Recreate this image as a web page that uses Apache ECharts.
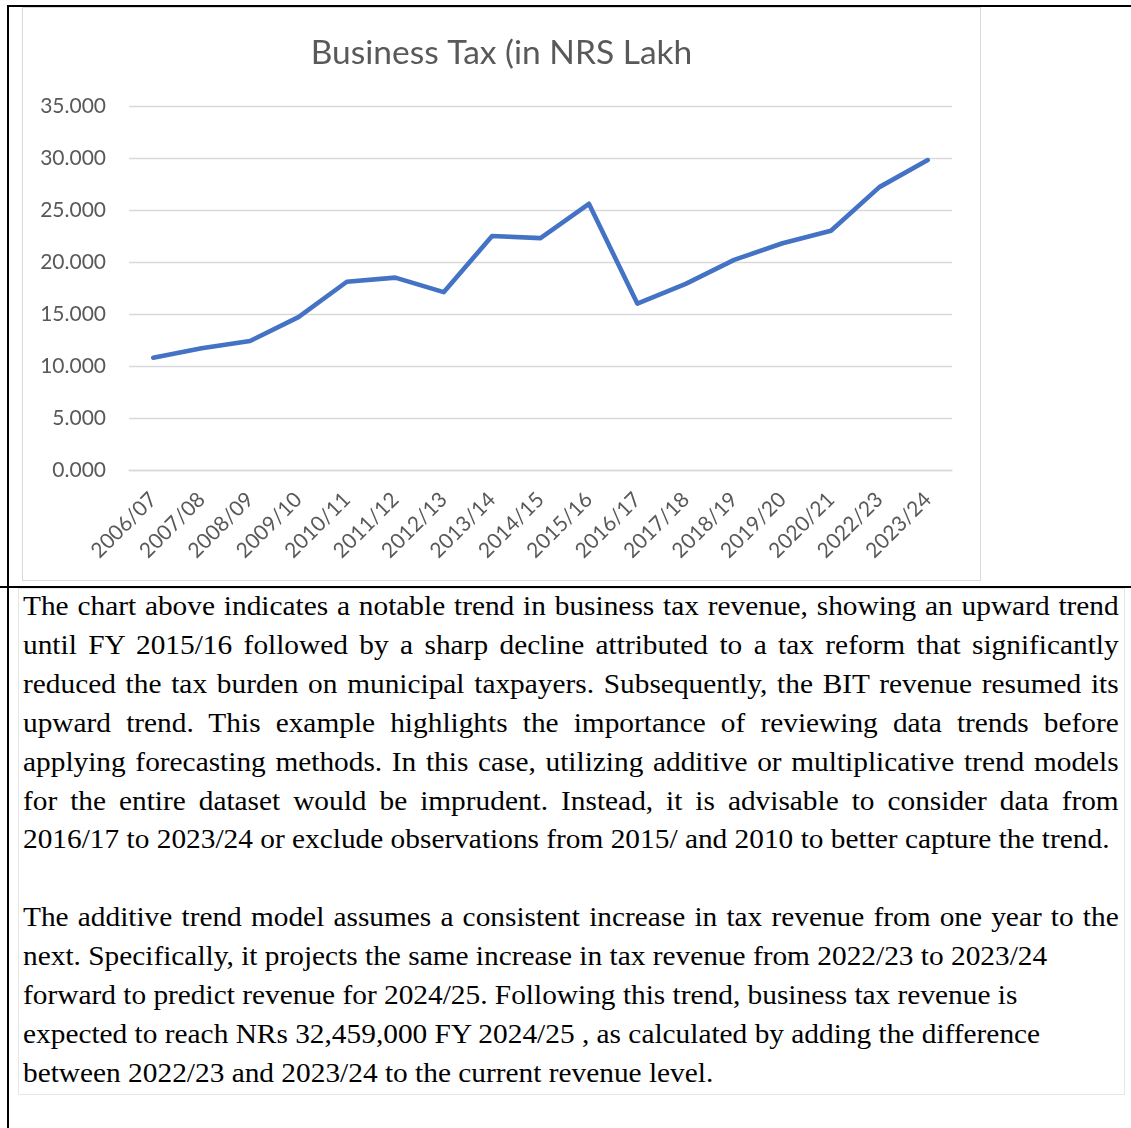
<!DOCTYPE html>
<html>
<head>
<meta charset="utf-8">
<script src="https://cdn.jsdelivr.net/npm/echarts@6/dist/echarts.min.js"></script>
<style>
  html, body { margin: 0; padding: 0; background: #fff; }
  body { width: 1131px; height: 1128px; position: relative; overflow: hidden; }
  .bl { position: absolute; background: #000; }
  #frame { position: absolute; left: 22px; top: 7px; width: 959px; height: 574px; box-sizing: border-box; border: 1px solid #d9d9d9; }
  #chart { position: absolute; left: 0; top: 0; width: 957px; height: 572px; }
  #tbox { position: absolute; left: 18px; top: 588px; width: 1107px; height: 507px; box-sizing: border-box; border: 1px solid #e6e6e6; }
  #text { position: absolute; left: 23px; top: 587px; width: 1008px; transform: scaleX(1.087); transform-origin: 0 0;
          font-family: "Liberation Serif", "Times New Roman", serif; font-size: 27px; line-height: 38.9px; color: #000; }
  .j { text-align: justify; text-align-last: justify; white-space: nowrap; }
  .l { text-align: left; white-space: nowrap; }
</style>
</head>
<body>
<div class="bl" style="left:7px; top:5px; width:1124px; height:2px;"></div>
<div class="bl" style="left:7px; top:5px; width:2px; height:1123px;"></div>
<div class="bl" style="left:0px; top:586px; width:1131px; height:2px;"></div>
<div id="frame"><div id="chart"></div></div>
<div id="tbox"></div>
<div id="text">
  <div class="j">The chart above indicates a notable trend in business tax revenue, showing an upward trend</div>
  <div class="j">until FY 2015/16 followed by a sharp decline attributed to a tax reform that significantly</div>
  <div class="j">reduced the tax burden on municipal taxpayers. Subsequently, the BIT revenue resumed its</div>
  <div class="j">upward trend. This example highlights the importance of reviewing data trends before</div>
  <div class="j">applying forecasting methods. In this case, utilizing additive or multiplicative trend models</div>
  <div class="j">for the entire dataset would be imprudent. Instead, it is advisable to consider data from</div>
  <div class="l">2016/17 to 2023/24 or exclude observations from 2015/ and 2010 to better capture the trend.</div>
  <div class="l">&nbsp;</div>
  <div class="j">The additive trend model assumes a consistent increase in tax revenue from one year to the</div>
  <div class="l">next. Specifically, it projects the same increase in tax revenue from 2022/23 to 2023/24</div>
  <div class="l">forward to predict revenue for 2024/25. Following this trend, business tax revenue is</div>
  <div class="l">expected to reach NRs 32,459,000 FY 2024/25 , as calculated by adding the difference</div>
  <div class="l">between 2022/23 and 2023/24 to the current revenue level.</div>
</div>
<script>
const titleText = "Business Tax (in NRS Lakh";
const categories = ["2006/07","2007/08","2008/09","2009/10","2010/11","2011/12","2012/13","2013/14","2014/15","2015/16","2016/17","2017/18","2018/19","2019/20","2020/21","2022/23","2023/24"];
const businessTax = [10.8, 11.7, 12.4, 14.7, 18.1, 18.5, 17.1, 22.5, 22.3, 25.6, 16.0, 17.9, 20.2, 21.8, 23.0, 27.2, 29.8];
const yMin = 0, yMax = 35, yStep = 5;

const chart = echarts.init(document.getElementById('chart'), null, { renderer: 'canvas' });
chart.setOption({
  animation: false,
  backgroundColor: '#ffffff',
  title: {
    text: titleText, left: 'center', top: 23,
    textStyle: { fontFamily: 'Lato', fontSize: 33.5, fontWeight: 'normal', color: '#595959' }
  },
  grid: { left: 106, right: 28, top: 98, bottom: 110, containLabel: false },
  xAxis: {
    type: 'category', data: categories, boundaryGap: true,
    axisLine: { show: true, lineStyle: { color: '#d9d9d9', width: 1.3 } },
    axisTick: { show: false },
    axisLabel: { rotate: 45, interval: 0, margin: 26, fontFamily: 'Lato', fontSize: 21, color: '#595959' }
  },
  yAxis: {
    type: 'value', min: yMin, max: yMax, interval: yStep,
    axisLine: { show: false }, axisTick: { show: false },
    splitLine: { lineStyle: { color: '#d9d9d9', width: 1.3 } },
    axisLabel: { margin: 23, fontFamily: 'Lato', fontSize: 21, color: '#595959', formatter: v => v.toFixed(3) }
  },
  series: [{
    type: 'line', data: businessTax, showSymbol: false, symbol: 'none',
    lineStyle: { color: '#4472C4', width: 4.6, cap: 'round', join: 'round' }
  }]
});
</script>
</body>
</html>
